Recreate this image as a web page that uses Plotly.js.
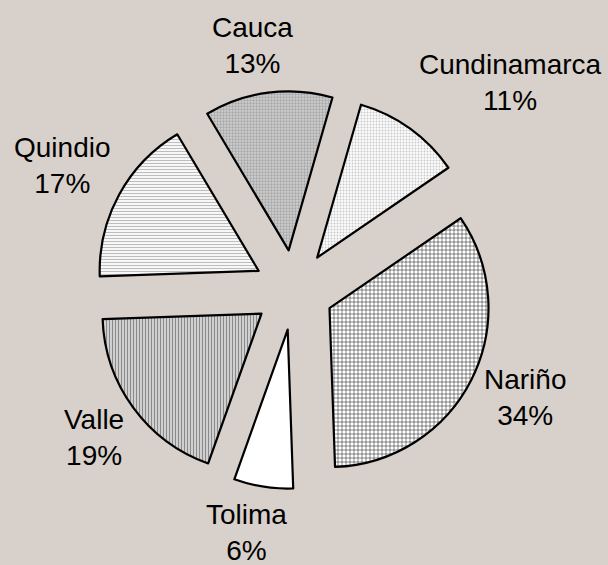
<!DOCTYPE html>
<html>
<head>
<meta charset="utf-8">
<script src="https://cdn.plot.ly/plotly-3.0.1.min.js"></script>
<style>html,body{margin:0;padding:0;background:#d8d0ca;}</style>
</head>
<body>
<div id="chart" style="width:608px;height:565px;"></div>
<script>
// Data (clockwise order starting at Cauca)
var labels = ["Cauca", "Cundinamarca", "Nariño", "Tolima", "Valle", "Quindio"];
var values = [13, 11, 34, 6, 19, 17];

// Styling per slice
var shapes   = [".", ".", "+", "", "|", "-"];
var fgcolors = ["#a6a6a6", "#c8c8c8", "#000000", "#ffffff", "#8a8a8a", "#bdbdbd"];
var bgcolors = ["#cfcfcf", "#fbfbfb", "#ffffff", "#ffffff", "#d0d0d0", "#f7f7f7"];
var psizes   = [3, 3, 4, 4, 3, 3];
var psolid   = [0.45, 0.3, 0.22, 0.3, 0.35, 0.35];

// Label anchor positions (pixels from top-left)
var labX = [252, 510, 525, 246, 94, 62];
var labY = [46, 82, 397, 532, 437, 166];

var total = values.reduce(function(a,b){return a+b;},0);
var annotations = labels.map(function(l,i){
  return {
    text: l + "<br>" + Math.round(values[i]/total*100) + "%",
    x: labX[i]/608, y: 1 - labY[i]/565,
    xref: "paper", yref: "paper",
    xanchor: "center", yanchor: "middle",
    showarrow: false,
    font: {family: "Liberation Sans, Arial, sans-serif", size: 28, color: "#000"}
  };
});

var trace = {
  type: "pie",
  labels: labels,
  values: values,
  sort: false,
  direction: "clockwise",
  rotation: 329.2,
  pull: values.map(function(){return 0.2516;}),
  textinfo: "none",
  hoverinfo: "none",
  marker: {
    colors: bgcolors,
    line: {color: "#000", width: 2.2},
    pattern: {
      shape: shapes,
      fgcolor: fgcolors,
      bgcolor: bgcolors,
      size: psizes,
      solidity: psolid,
      fillmode: "replace"
    }
  },
  domain: {x: [0.1559, 0.8105], y: [0.1345, 0.8389]}
};

var layout = {
  width: 608, height: 565,
  margin: {l:0, r:0, t:0, b:0},
  paper_bgcolor: "#d8d0ca",
  plot_bgcolor: "#d8d0ca",
  showlegend: false,
  annotations: annotations
};

Plotly.newPlot("chart", [trace], layout, {displayModeBar: false, staticPlot: true});
</script>
</body>
</html>
